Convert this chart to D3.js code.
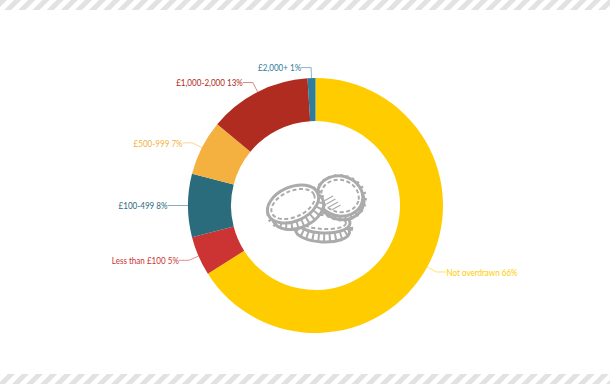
<!DOCTYPE html>
<html>
<head>
<meta charset="utf-8">
<script src="https://cdn.jsdelivr.net/npm/d3@7"></script>
<style>
  html, body { margin: 0; padding: 0; background: #fff; }
  svg { display: block; }
  text { font-family: Lato, sans-serif; font-size: 9.4px; }
</style>
</head>
<body>
<svg id="plotarea" width="610" height="384"></svg>
<script>
var bands = ["Not overdrawn", "Less than £100", "£100-499", "£500-999", "£1,000-2,000", "£2,000+"];
var shares = [66, 5, 8, 7, 13, 1];
var band_colors = ["#ffcc00", "#cc3333", "#2a6b7c", "#f4b13f", "#b02b20", "#2e7d9a"];

var fig_cfg = {width: 610, height: 384, cx: 315.5, cy: 205.5, outer: 127.5, inner: 84.5, elbow: 138, run: 10};

var svg = d3.select("#plotarea");

// hatched bands top and bottom
var pattern = svg.append("defs").append("pattern")
    .attr("id", "hatch")
    .attr("width", 10)
    .attr("height", 10)
    .attr("patternUnits", "userSpaceOnUse")
    .attr("patternTransform", "rotate(45)");
pattern.append("rect")
    .attr("width", 5)
    .attr("height", 10)
    .attr("fill", "#e2e2e2");

svg.append("rect").attr("width", fig_cfg.width).attr("height", 10).attr("fill", "url(#hatch)");
svg.append("rect").attr("y", 374).attr("width", fig_cfg.width).attr("height", 10).attr("fill", "url(#hatch)");

var pie = d3.pie().sort(null).value(function(d) { return d; });
var slices = pie(shares);

var arc = d3.arc().innerRadius(fig_cfg.inner).outerRadius(fig_cfg.outer);
var edge_arc = d3.arc().innerRadius(fig_cfg.outer).outerRadius(fig_cfg.outer);
var elbow_arc = d3.arc().innerRadius(fig_cfg.elbow).outerRadius(fig_cfg.elbow);

var chart = svg.append("g")
    .attr("transform", "translate(" + fig_cfg.cx + "," + fig_cfg.cy + ")");

chart.selectAll(".slice")
  .data(slices)
  .enter()
  .append("path")
    .classed("slice", true)
    .attr("d", arc)
    .attr("fill", function(d, i) { return band_colors[i]; });

function side(d) {
  // right half of the ring gets labels going right
  return (d.startAngle + d.endAngle) / 2 < Math.PI ? 1 : -1;
}

chart.selectAll(".leader")
  .data(slices)
  .enter()
  .append("polyline")
    .classed("leader", true)
    .attr("fill", "none")
    .attr("stroke", function(d, i) { return band_colors[i]; })
    .attr("stroke-opacity", 0.55)
    .attr("points", function(d) {
      var a = edge_arc.centroid(d),
          b = elbow_arc.centroid(d);
      return [a, b, [b[0] + side(d) * fig_cfg.run, b[1]]].join(" ");
    });

// the original face is narrower than anything installed, so squeeze it
chart.selectAll(".label")
  .data(slices)
  .enter()
  .append("text")
    .classed("label", true)
    .attr("transform", function(d) {
      var p = elbow_arc.centroid(d);
      return "translate(" + (p[0] + side(d) * fig_cfg.run) + "," + (p[1] + 0.5) + ") scale(0.86,1)";
    })
    .attr("dy", "0.35em")
    .attr("text-anchor", function(d) { return side(d) > 0 ? "start" : "end"; })
    .attr("fill", function(d, i) { return band_colors[i]; })
    .text(function(d, i) { return bands[i] + " " + shares[i] + "%"; });

// coins icon in the hole
function add_coin(x, y, rx, ry, rot, edge_dx, edge_dy) {
  var g = svg.append("g")
      .attr("transform", "translate(" + x + "," + y + ") rotate(" + rot + ")")
      .attr("stroke", "#ababab");
  g.append("ellipse")
      .attr("cx", edge_dx).attr("cy", edge_dy)
      .attr("rx", rx).attr("ry", ry)
      .attr("fill", "#fff").attr("stroke-width", 3);
  g.append("ellipse")
      .attr("cx", edge_dx * 0.5).attr("cy", edge_dy * 0.5)
      .attr("rx", rx).attr("ry", ry)
      .attr("fill", "none").attr("stroke-width", 7)
      .attr("stroke-dasharray", "2 3.6");
  g.append("ellipse")
      .attr("rx", rx).attr("ry", ry)
      .attr("fill", "#fff").attr("stroke-width", 3);
  g.append("ellipse")
      .attr("rx", rx - 4).attr("ry", ry - 4)
      .attr("fill", "none").attr("stroke-width", 2)
      .attr("stroke-dasharray", "4 2.5");
}

add_coin(323, 222, 27, 11, 3, 0, 9);
add_coin(340, 196, 23, 20, 15, 2, 3);
add_coin(293, 204, 27, 17, -24, 2, 8);

var shine = svg.append("g").attr("stroke", "#ababab").attr("stroke-width", 1.3);
d3.range(4).forEach(function(i) {
  shine.append("line")
      .attr("x1", 324 + i * 2.5).attr("y1", 201 + i * 3)
      .attr("x2", 333 + i * 2.5).attr("y2", 196 + i * 3);
});
</script>
</body>
</html>
